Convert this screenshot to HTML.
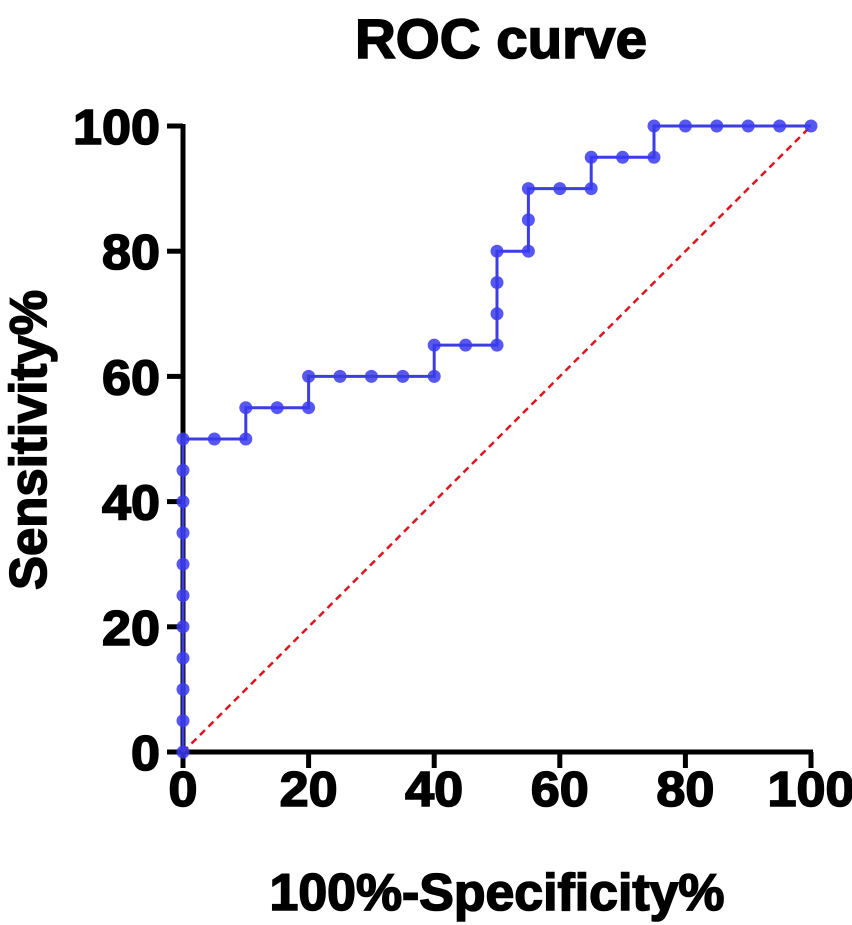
<!DOCTYPE html>
<html><head><meta charset="utf-8"><style>
html,body{margin:0;padding:0;background:#fff;}
svg{display:block;font-family:"Liberation Sans",Arial,sans-serif;font-weight:bold;}
.t{stroke:#000;stroke-width:1.6px;}
</style></head><body>
<svg id="chart" width="852" height="925" viewBox="0 0 852 925">
<text class="t" x="501" y="58" font-size="56" text-anchor="middle" textLength="292" lengthAdjust="spacingAndGlyphs">ROC curve</text>
<g id="axes"></g>
<g id="series"></g>
<text class="t" x="497" y="910" font-size="52" text-anchor="middle" textLength="455" lengthAdjust="spacingAndGlyphs">100%-Specificity%</text>
<text class="t" transform="translate(46,440) rotate(-90)" font-size="52" text-anchor="middle" textLength="300" lengthAdjust="spacingAndGlyphs">Sensitivity%</text>
</svg>
<script>
const xValues=[0,0,0,0,0,0,0,0,0,0,0,5,10,10,15,20,20,25,30,35,40,40,45,50,50,50,50,55,55,55,60,65,65,70,75,75,80,85,90,95,100];
const yValues=[0,5,10,15,20,25,30,35,40,45,50,50,50,55,55,55,60,60,60,60,60,65,65,65,70,75,80,80,85,90,90,90,95,95,95,100,100,100,100,100,100];
const xTicks=[0,20,40,60,80,100];
const yTicks=[0,20,40,60,80,100];
const X0=183,X1=811,Y0=752,Y1=126;
const sx=v=>X0+(X1-X0)*v/100, sy=v=>Y0-(Y0-Y1)*v/100;
const NS="http://www.w3.org/2000/svg";
const axes=document.getElementById('axes'), series=document.getElementById('series');
function mk(tag,attrs,parent){const e=document.createElementNS(NS,tag);for(const k in attrs)e.setAttribute(k,attrs[k]);parent.appendChild(e);return e;}
let d=mk('line',{x1:sx(0),y1:sy(0),x2:sx(100),y2:sy(100),stroke:'#e0141e','stroke-width':2.5,'stroke-dasharray':'7,5'},series);


let ya=mk('line',{x1:X0,y1:Y1-2,x2:X0,y2:Y0+2.5,stroke:'#000','stroke-width':5},axes);


let xa=mk('line',{x1:X0-2.5,y1:Y0,x2:X1+2,y2:Y0,stroke:'#000','stroke-width':5},axes);


yTicks.forEach(t=>{
 const l=mk('line',{x1:X0-16,y1:sy(t),x2:X0,y2:sy(t),stroke:'#000','stroke-width':5},axes);
 
 
 const s=String(t);
 const tx=mk('text',{class:'t',x:X0-23,y:sy(t)+18,'font-size':49,'text-anchor':'end',textLength:29*s.length,lengthAdjust:'spacingAndGlyphs'},axes);tx.textContent=s;
 
 
});
xTicks.forEach(t=>{
 const l=mk('line',{x1:sx(t),y1:Y0,x2:sx(t),y2:Y0+16,stroke:'#000','stroke-width':5},axes);
 
 
 const s=String(t);
 const tx=mk('text',{class:'t',x:sx(t),y:Y0+54,'font-size':49,'text-anchor':'middle',textLength:29*s.length,lengthAdjust:'spacingAndGlyphs'},axes);tx.textContent=s;
 
 
});
const pts=xValues.map((x,i)=>sx(x)+','+sy(yValues[i])).join(' ');
const pl=mk('polyline',{points:pts,fill:'none',stroke:'#3d3de6','stroke-width':3},series);


xValues.forEach((x,i)=>{
 const c=mk('circle',{cx:sx(x),cy:sy(yValues[i]),r:6.5,fill:'#3a3aee','fill-opacity':0.85},series);
 
 
});
</script>
</body></html>
